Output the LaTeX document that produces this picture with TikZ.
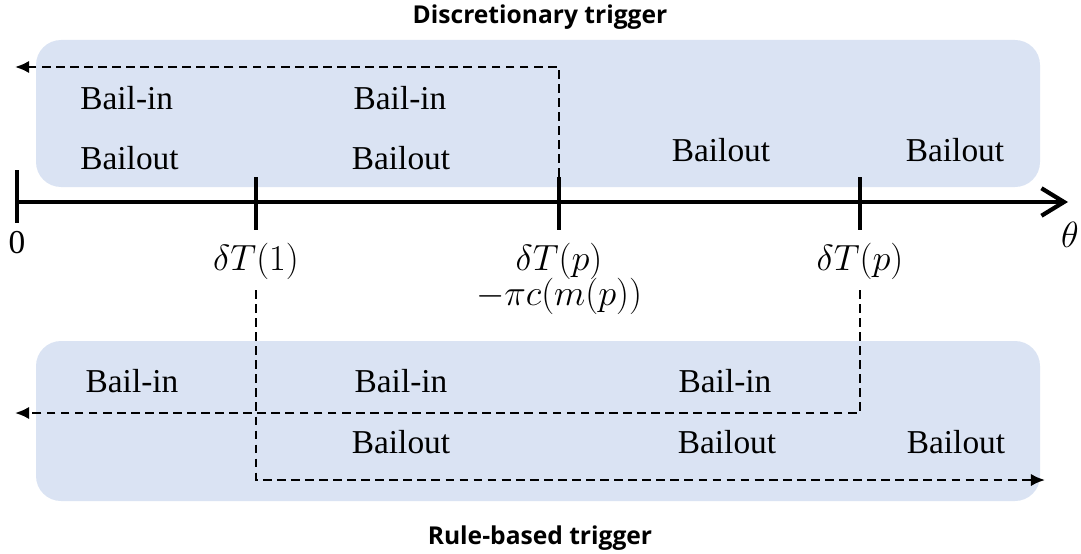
\documentclass[tikz,border=0pt]{standalone}
\usepackage{fontspec}
\setmainfont{Liberation Serif}
\newfontfamily\headfont{Open Sans}
\usetikzlibrary{positioning,arrows.meta,calc}
\definecolor{bandblue}{HTML}{DAE3F3}

\begin{document}
\begin{tikzpicture}[x=0.02cm, y=-0.02cm, font=\fontsize{19}{22}\selectfont,
      zone/.style={fill=bandblue, rounded corners=0.5cm},
      lbl/.style={inner sep=0pt, anchor=base},
      mlbl/.style={lbl, font=\fontsize{21}{24}\selectfont},
      tickmark/.style={line width=2pt},
      route/.style={line width=1.3pt, dash pattern=on 5pt off 3pt,
                    -{Latex[length=8pt,width=7pt]}},
      heading/.style={font=\headfont\bfseries\fontsize{14}{17}\selectfont}]
    \useasboundingbox (0,0) rectangle (1081,554);

    % shaded bands
    \fill[zone] (36,40) rectangle (1040,187);
    \fill[zone] (36,341) rectangle (1040,501);

    % axis
    \coordinate (o)   at (17,202);
    \coordinate (end) at (1068,202);
    \draw[line width=2.4pt, -{Straight Barb[length=0.45cm,width=0.55cm,line width=2.4pt]}] (o) -- (end);
    \draw[tickmark] (17,170) -- (17,223);
    \foreach \x in {256,559,860}
      \draw[tickmark] (\x,177) -- (\x,230);

    % axis labels
    \node[lbl]  (zero)  at (17,253)   {0};
    \node[mlbl] (theta) at (1070,247) {$\theta$};
    \node[mlbl] (dT1)   at (256,270)  {$\delta T(1)$};
    \node[mlbl] (dTp)   at (559,270)  {$\delta T(p)$};
    \node[mlbl] (cost)  at (559,305)  {$-\pi c\bigl(m(p)\bigr)$};
    \node[mlbl] (dTq)   at (860,270)  {$\delta T(p)$};

    % discretionary band
    \node[lbl, anchor=base west] (d1) at (80,110)  {Bail-in};
    \node[lbl, anchor=base west] (d2) at (80,169)  {Bailout};
    \node[lbl] (d3) at (400,110) {Bail-in};
    \node[lbl] (d4) at (401,169) {Bailout};
    \node[lbl] (d5) at (721,161) {Bailout};
    \node[lbl] (d6) at (955,161) {Bailout};

    % rule-based band
    \node[lbl] (r1) at (132,392) {Bail-in};
    \node[lbl] (r2) at (401,392) {Bail-in};
    \node[lbl] (r3) at (725,392) {Bail-in};
    \node[lbl] (r4) at (401,453) {Bailout};
    \node[lbl] (r5) at (727,453) {Bailout};
    \node[lbl] (r6) at (956,453) {Bailout};

    % dashed routes
    \coordinate (sp) at (559,177);
    \coordinate (ep) at (15,67);
    \draw[route] (sp) |- (ep);
    \coordinate (sq) at (860,290);
    \coordinate (eq) at (15,413);
    \draw[route] (sq) |- (eq);
    \coordinate (s1) at (256,290);
    \coordinate (e1) at (1045,480);
    \draw[route] (s1) |- (e1);

    \node[heading] (top) at (540,17)  {Discretionary trigger};
    \node[heading] (bot) at (540,538) {Rule-based trigger};
\end{tikzpicture}
\end{document}
